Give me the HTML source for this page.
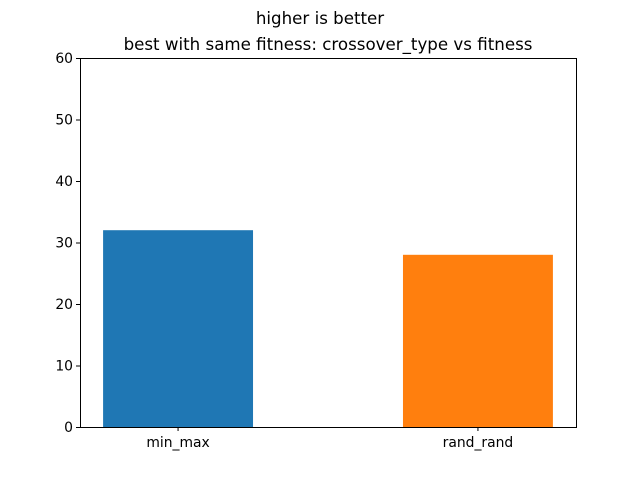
<!DOCTYPE html>
<html><head><meta charset="utf-8"><style>
body{margin:0;background:#fff;}
svg text{font-family:"DejaVu Sans","Liberation Sans",sans-serif;}
</style></head><body>
<svg id="chart" width="640" height="480" xmlns="http://www.w3.org/2000/svg">
<rect width="640" height="480" fill="#fff"/>
<text x="320" y="24" font-size="16.67" text-anchor="middle">higher is better</text>
<text x="328" y="50" font-size="16.67" text-anchor="middle">best with same fitness: crossover_type vs fitness</text>
<g id="bars"></g>
<g id="yticks"></g>
<g id="xticks"></g>
<rect x="80.5" y="58.5" width="496" height="369" fill="none" stroke="#000" stroke-width="1"/>
</svg>
<script>
const categories = ["min_max", "rand_rand"];
const values = [32, 28];
const yTicks = [0, 10, 20, 30, 40, 50, 60];
const colors = ["#1f77b4", "#ff7f0e"];
const L=80,R=576,T=58,B=427,yMax=60,xMin=-0.327,xMax=1.327,bw=0.5;
const ns="http://www.w3.org/2000/svg";
const xs=v=>L+(v-xMin)/(xMax-xMin)*(R-L);
const ys=v=>B-v/yMax*(B-T);
function mk(t,a,p){const e=document.createElementNS(ns,t);for(const k in a)e.setAttribute(k,a[k]);p.appendChild(e);return e;}
const gb=document.getElementById('bars'),gy=document.getElementById('yticks'),gx=document.getElementById('xticks');
categories.forEach((c,i)=>{
  const r=mk('rect',{x:xs(i-bw/2),y:ys(values[i]),width:xs(i+bw/2)-xs(i-bw/2),height:B-ys(values[i]),fill:colors[i%colors.length]},gb);
  
  
  const tk=mk('line',{x1:xs(i),x2:xs(i),y1:B,y2:B+4,stroke:'#000'},gx);
  
  
  const t=mk('text',{x:xs(i),y:B+20,'font-size':13.9,'text-anchor':'middle'},gx);
  t.textContent=c;
  
  
});
yTicks.forEach(v=>{
  const y=ys(v)+0.5;
  const tk=mk('line',{x1:L-4,x2:L,y1:y,y2:y,stroke:'#000'},gy);
  
  
  const t=mk('text',{x:L-7,y:y+4.5,'font-size':13.9,'text-anchor':'end'},gy);
  t.textContent=v;
  
  
});
</script>
</body></html>
